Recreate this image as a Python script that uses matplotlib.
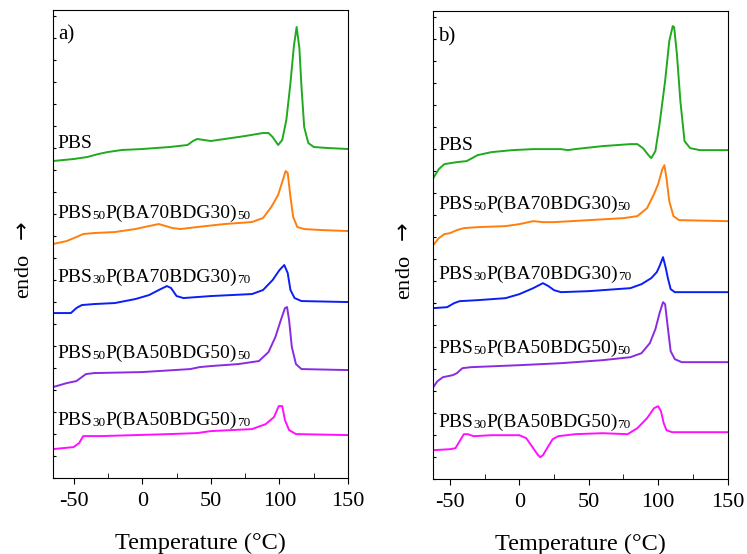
import matplotlib
matplotlib.use("Agg")
import matplotlib.pyplot as plt

plt.rcParams["font.family"] = ["Liberation Serif", "DejaVu Serif"]
plt.rcParams["axes.unicode_minus"] = False

# ---- panel a) : heat flow traces (arbitrary units, offset) ----
a_pbs_T = [-65, -50, -40, -32, -25, -15, 0, 20, 33, 37, 40, 45, 50, 60, 75, 88, 92, 95, 99, 102,
           105, 108, 110.5, 112.5, 114.5, 116, 118, 121, 125, 135, 150]
a_pbs_s = [317, 319, 321, 324, 326, 328, 329, 331, 333, 337, 339, 338, 337, 339, 342, 345, 345, 341, 333, 338,
           358, 395, 432, 451, 430, 392, 351, 335, 331, 330, 329]

a_b73_50_T = [-65, -55, -48, -43, -35, -20, -5, 5, 12, 17, 22, 28, 40, 60, 80, 88, 94, 99, 102,
              104.5, 106, 108, 110, 113, 118, 130, 150]
a_b73_50_s = [234, 237, 241, 244, 245, 246, 249, 252, 254, 252, 250, 249, 251, 254, 256, 260, 271, 283, 296,
              307, 305, 281, 261, 251, 249, 248, 247]

a_b73_70_T = [-65, -52, -48, -44, -35, -20, -5, 5, 12, 18, 21, 25, 30, 50, 80, 88, 95, 100,
              103.5, 106, 108, 111, 116, 150]
a_b73_70_s = [165, 165, 170, 173, 174, 175, 179, 183, 188, 192, 190, 182, 180, 182, 184, 188, 198, 208,
              213, 205, 188, 180, 177, 176]

a_b55_50_T = [-65, -55, -48, -45, -41, -35, 0, 35, 42, 50, 70, 85, 92, 97, 101, 104, 105.5, 107,
              109, 112, 116, 150]
a_b55_50_s = [91, 95, 97, 100, 104, 105, 106, 109, 111, 112, 114, 117, 126, 141, 158, 170, 171, 158,
              131, 114, 109, 108]

a_b55_70_T = [-65, -50, -46, -43, -40, -30, 20, 40, 50, 80, 90, 96, 99.5, 102, 104, 107, 112, 150]
a_b55_70_s = [29, 31, 35, 42, 42, 42, 44, 45, 47, 49, 54, 61, 72, 72, 58, 48, 44, 43]

# ---- panel b) ----
b_pbs_T = [-62, -58, -54, -45, -38, -30, -20, -5, 10, 30, 35, 40, 60, 80, 85, 89, 93, 95, 98, 101,
           105, 108, 110.5, 111.5, 113.5, 116, 119, 123, 130, 150]
b_pbs_s = [301, 310, 315, 317, 318, 324, 327, 329, 330, 330, 329, 330, 333, 335, 335, 331, 324, 321, 328, 355,
           398, 438, 453, 452, 425, 378, 338, 331, 329, 329]

b_b73_50_T = [-62, -58, -54, -50, -45, -40, -30, -10, 0, 10, 17, 25, 50, 75, 85, 92, 97, 100, 103,
              104.5, 106, 108, 111, 115, 150]
b_b73_50_s = [234, 241, 245, 246, 249, 251, 252, 253, 255, 258, 257, 257, 259, 261, 263, 271, 285, 295, 310,
              314, 301, 278, 263, 259, 258]

b_b73_70_T = [-62, -52, -47, -43, -30, -10, 0, 10, 17, 21, 25, 30, 50, 80, 88, 95, 99, 101,
              103.5, 105.5, 107, 109, 112, 150]
b_b73_70_s = [171, 172, 176, 178, 179, 181, 185, 191, 196, 193, 189, 187, 188, 191, 195, 201, 207, 213,
              222, 211, 201, 190, 187, 187]

b_b55_50_T = [-62, -59, -55, -48, -45, -41, -35, 0, 30, 60, 80, 88, 94, 98, 101, 103.5, 105, 107,
              109, 112, 117, 150]
b_b55_50_s = [92, 98, 102, 104, 106, 111, 112, 114, 116, 119, 122, 126, 136, 150, 166, 177, 175, 151,
              128, 120, 117, 117]

b_b55_70_T = [-62, -50, -46, -43, -40, -37, -33, -20, 0, 5, 10, 13, 15, 17, 20, 24, 28, 40, 60, 78,
              85, 92, 97, 100, 102, 104, 106, 110, 150]
b_b55_70_s = [29, 30, 31, 38, 45, 45, 43, 44, 44, 41, 31, 25, 22, 24, 31, 40, 43, 45, 46, 45,
              51, 61, 71, 73, 68, 56, 49, 47, 47]

# sample names: (text, is_subscript) pieces
labels = [
    [("PBS", False)],
    [("PBS", False), ("50", True), ("P(BA70BDG30)", False), ("50", True)],
    [("PBS", False), ("30", True), ("P(BA70BDG30)", False), ("70", True)],
    [("PBS", False), ("50", True), ("P(BA50BDG50)", False), ("50", True)],
    [("PBS", False), ("30", True), ("P(BA50BDG50)", False), ("70", True)],
]
colors = ["#1faa1f", "#ff7f0e", "#0a1ef5", "#8a2be2", "#ff10ff"]

panels = [
    ("a)", [(a_pbs_T, a_pbs_s), (a_b73_50_T, a_b73_50_s), (a_b73_70_T, a_b73_70_s),
            (a_b55_50_T, a_b55_50_s), (a_b55_70_T, a_b55_70_s)],
     -65, [330, 260, 196, 120, 53], -0.066),
    ("b)", [(b_pbs_T, b_pbs_s), (b_b73_50_T, b_b73_50_s), (b_b73_70_T, b_b73_70_s),
            (b_b55_50_T, b_b55_50_s), (b_b55_70_T, b_b55_70_s)],
     -62, [329, 270, 200, 126, 52], -0.063),
]


def draw_label(ax, x, y, parts):
    # chain text pieces; smaller digits sit on the same bottom line
    t = None
    for s, sub in parts:
        fs = 9.5 if sub else 14
        if t is None:
            t = ax.text(x, y, s, fontsize=fs, va="baseline", ha="left")
        else:
            t = ax.annotate(s, xy=(1, 0), xycoords=t, fontsize=fs, va="bottom", ha="left")


fig = plt.figure(figsize=(7.47, 5.54), dpi=100)
rects = [[0.071, 0.137, 0.395, 0.845], [0.580, 0.135, 0.394, 0.845]]

for rect, (tag, curves, xmin, label_y, ylab_x) in zip(rects, panels):
    ax = fig.add_axes(rect)
    for (T, s), c in zip(curves, colors):
        ax.plot(T, s, color=c, lw=1.4)
    for parts, y in zip(labels, label_y):
        draw_label(ax, xmin + 3.5, y, parts)
    ax.text(xmin + 3.5, 438, tag, fontsize=15, va="baseline", ha="left")
    ax.set_xlim(xmin, 150)
    ax.set_ylim(0, 468)
    ax.set_xticks([-50, 0, 50, 100, 150])
    ax.set_xticks([-25, 25, 75, 125], minor=True)
    ax.tick_params(axis="x", which="major", direction="out", labelsize=16, length=4, pad=6)
    ax.tick_params(axis="x", which="minor", direction="in", length=3.5)
    ax.set_yticks(range(0, 468, 22))
    ax.tick_params(axis="y", direction="in", length=2, labelleft=False)
    ax.set_xlabel("Temperature (°C)", fontsize=17.5, labelpad=15.5)
    ax.set_ylabel("endo  $\\rightarrow$", fontsize=16)
    ax.yaxis.set_label_coords(ylab_x, 0.466)

fig.savefig("out.png", dpi=100)
